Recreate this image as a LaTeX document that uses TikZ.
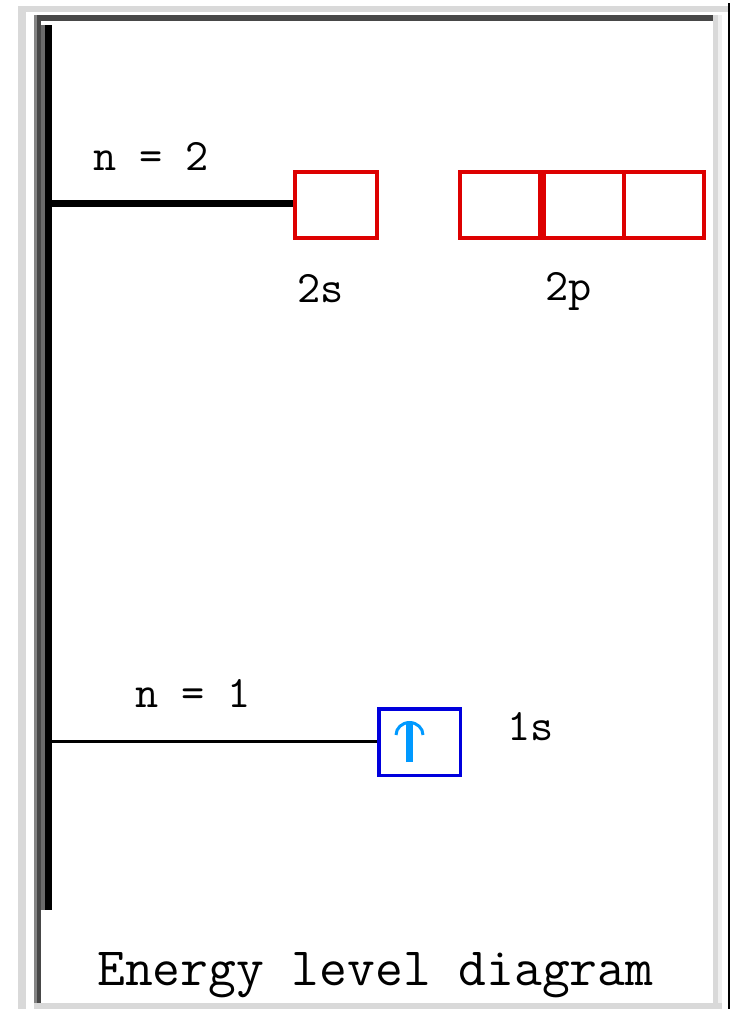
\documentclass[tikz,border=0pt]{standalone}
\usepackage{fontspec}
\usetikzlibrary{positioning,arrows.meta}

\definecolor{orbred}{HTML}{DD0000}
\definecolor{orbblue}{HTML}{0000DD}
\definecolor{spinblue}{HTML}{0099FF}
\definecolor{edgelight}{HTML}{D9D9D9}
\definecolor{edgepale}{HTML}{EFEFEF}
\definecolor{edgemid}{HTML}{858585}
\definecolor{edgedark}{HTML}{474747}
\definecolor{barshade}{HTML}{6A6A6A}

\begin{document}
\begin{tikzpicture}[
  x=1pt, y=-1pt,
  font=\ttfamily\fontsize{45}{45}\selectfont,
  node distance = 0pt,
  %% Orbital boxes
  sbox/.style   = {draw=orbred, line width=4pt, inner sep=0pt,
                   minimum width=82pt, minimum height=66pt},
  pbox/.style   = {draw=orbred, line width=4pt, inner sep=0pt,
                   minimum width=80pt, minimum height=66pt},
  occbox/.style = {draw=orbblue, line width=3.5pt, inner sep=0pt,
                   minimum width=81.5pt, minimum height=66.5pt},
  lbl/.style    = {anchor=base west, inner sep=0pt},
  spin/.style   = {spinblue, line width=7pt,
                   -{Arc Barb[width=30pt,length=14pt,line width=3pt]}},
]
\useasboundingbox (0,0) rectangle (730,1009);

%% ── Frame ──────────────────────────────────────────────────────
\fill[edgelight] (18,6) rectangle (730,12);
\fill[edgelight] (18,6) rectangle (26,1009);
\fill[black] (728,3) rectangle (730,1009);
\fill[edgedark] (37,15) rectangle (713,21);
\fill[edgemid] (34,15) rectangle (37,1003);
\fill[edgedark] (37,15) rectangle (41,1003);
\fill[edgelight] (713,15) rectangle (718,1003);
\fill[edgepale] (718,15) rectangle (722,1003);
\fill[edgelight] (34,1003) rectangle (722,1009);

%% ── Energy axis ────────────────────────────────────────────────
\fill[barshade] (41,25) rectangle (45,910);
\fill[black] (45,25) rectangle (52,910);

%% ── Level n = 2 ────────────────────────────────────────────────
\node[sbox] (s2) at (336,205) {};
\node[pbox, anchor=west] (p2a) at (458,205) {};
\node[pbox, right=of p2a] (p2b) {};
\node[pbox, right=-4pt of p2b] (p2c) {};

\coordinate (lv2) at (52,203.5);
\draw[line width=7pt] (lv2) -- (lv2 -| s2.west);

\node[lbl] (n2)  at (93,170)  {n = 2};
\node[lbl] (l2s) at (297,302) {2s};
\node[lbl] (l2p) at (545,300) {2p};

%% ── Level n = 1 ────────────────────────────────────────────────
\node[occbox] (s1) at (419.5,742) {};

\coordinate (lv1) at (52,741.5);
\draw[line width=3pt] (lv1) -- (lv1 -| s1.west);

% electron in 1s
\coordinate (up) at (409.5,762);
\draw[spin] (up) -- ++(0,-41);

\node[lbl] (n1)  at (135,707) {n = 1};
\node[lbl] (l1s) at (507,740) {1s};

%% ── Caption ────────────────────────────────────────────────────
\node[lbl, font=\ttfamily\fontsize{54}{54}\selectfont] (title)
  at (97,985) {Energy level diagram};

\end{tikzpicture}
\end{document}
